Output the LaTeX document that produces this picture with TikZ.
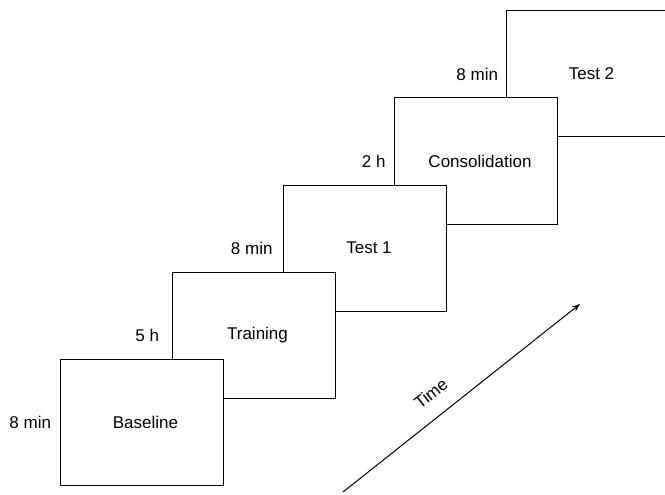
\documentclass[tikz,border=0pt]{standalone}
\usepackage{fontspec}
\setmainfont{Liberation Sans}
\usepackage{tikz}
\usetikzlibrary{positioning, arrows.meta}

\begin{document}
\begin{tikzpicture}[x=1pt, y=-1pt, >={Stealth[length=8pt, width=6pt]}, line width=1pt,
    phase/.style={draw, fill=white, minimum width=163pt, minimum height=126pt, inner sep=0pt,
        execute at begin node=\hspace*{8pt}},
    gap/.style={inner sep=0pt},
    every node/.style={font=\fontsize{17}{20}\selectfont}]
    \clip (0,0) rectangle (665,495);
    % Phases (drawn back to front)
    \node (T2) [phase] at (587.5,74) {Test 2};
    \node (C) [phase] at (476,161) {Consolidation};
    \node (T1) [phase] at (365,248) {Test 1};
    \node (Tr) [phase] at (253.5,335) {Training};
    \node (B) [phase] at (141.5,422) {Baseline};

    % Durations
    \node (dB) [gap, left=8pt of B] {8 min};
    \node (dTr) [gap, left=12pt of Tr] {5 h};
    \node (dT1) [gap, left=10pt of T1] {8 min};
    \node (dC) [gap, left=8pt of C] {2 h};
    \node (dT2) [gap, left=7pt of T2] {8 min};

    % Time axis
    \coordinate (t0) at (343,492);
    \coordinate (t1) at (580,304);
    \draw[->] (t0) -- node[gap, sloped, pos=0.43, above=16pt] {Time} (t1);
\end{tikzpicture}
\end{document}
